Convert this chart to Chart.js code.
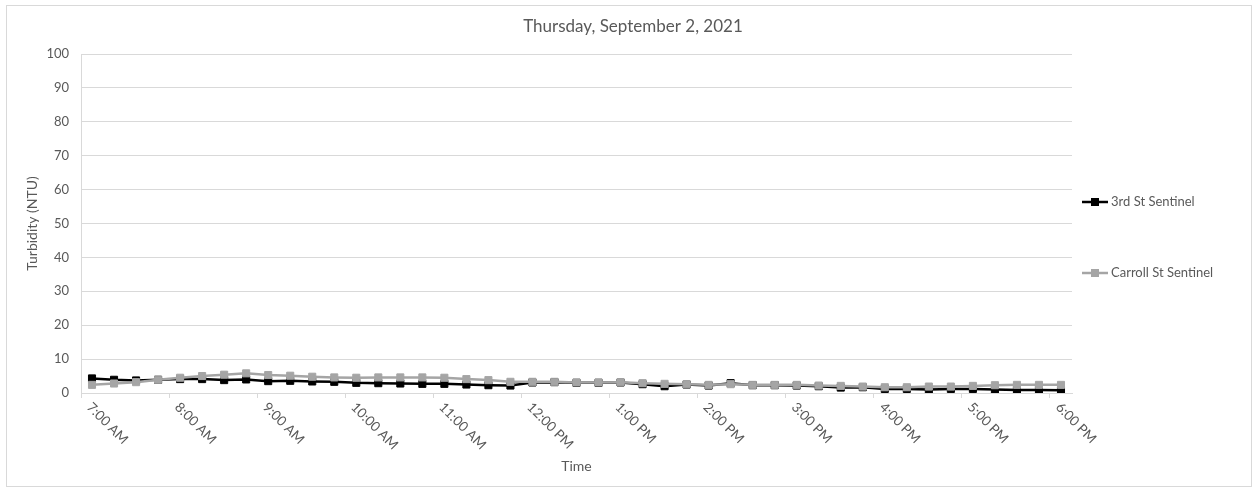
<!DOCTYPE html>
<html>
<head>
<meta charset="utf-8">
<script src="https://cdn.jsdelivr.net/npm/chart.js@4.4.1/dist/chart.umd.min.js"></script>
<style>
  html, body { margin: 0; padding: 0; background: #ffffff; }
  #wrap { position: relative; width: 1257px; height: 491px; }
</style>
</head>
<body>
<div id="wrap"><canvas id="c" width="1257" height="491"></canvas></div>
<script>
const chartTitle = "Thursday, September 2, 2021";
const xTitle = "Time";
const yTitle = "Turbidity (NTU)";

const categories = [
  "7:00 AM","7:15 AM","7:30 AM","7:45 AM",
  "8:00 AM","8:15 AM","8:30 AM","8:45 AM",
  "9:00 AM","9:15 AM","9:30 AM","9:45 AM",
  "10:00 AM","10:15 AM","10:30 AM","10:45 AM",
  "11:00 AM","11:15 AM","11:30 AM","11:45 AM",
  "12:00 PM","12:15 PM","12:30 PM","12:45 PM",
  "1:00 PM","1:15 PM","1:30 PM","1:45 PM",
  "2:00 PM","2:15 PM","2:30 PM","2:45 PM",
  "3:00 PM","3:15 PM","3:30 PM","3:45 PM",
  "4:00 PM","4:15 PM","4:30 PM","4:45 PM",
  "5:00 PM","5:15 PM","5:30 PM","5:45 PM",
  "6:00 PM"
];

const tickLabels = ["7:00 AM","8:00 AM","9:00 AM","10:00 AM","11:00 AM","12:00 PM",
  "1:00 PM","2:00 PM","3:00 PM","4:00 PM","5:00 PM","6:00 PM"];

const yTicks = [0,10,20,30,40,50,60,70,80,90,100];

const thirdStName = "3rd St Sentinel";
const thirdSt = [
  4.3,3.9,3.7,3.9, 4.1,4.1,3.8,4.0, 3.5,3.6,3.4,3.3,
  3.0,2.9,2.8,2.7, 2.7,2.5,2.3,2.2, 3.1,3.2,3.0,3.0,
  3.1,2.6,2.0,2.5, 2.2,2.9,2.3,2.3, 2.2,2.0,1.6,1.7,
  1.2,1.2,1.0,1.2, 1.2,1.0,0.9,0.9, 0.8
];

const carrollStName = "Carroll St Sentinel";
const carrollSt = [
  2.4,2.8,3.2,3.9, 4.5,5.0,5.4,5.8, 5.3,5.1,4.8,4.6,
  4.5,4.6,4.6,4.6, 4.5,4.1,3.8,3.3, 3.3,3.3,3.1,3.1,
  3.2,2.9,2.7,2.6, 2.4,2.6,2.4,2.4, 2.4,2.2,2.1,1.9,
  1.7,1.7,1.9,1.9, 2.1,2.3,2.4,2.4, 2.4
];

const FONT = "Lato, 'Liberation Sans', sans-serif";
const TEXT = "#595959";
const GRID = "#d9d9d9";

const customPlugin = {
  id: 'custom',
  beforeDraw(chart) {
    const ctx = chart.ctx;
    ctx.save();
    ctx.fillStyle = '#ffffff';
    ctx.fillRect(0, 0, chart.width, chart.height);
    ctx.strokeStyle = GRID;
    ctx.lineWidth = 1;
    ctx.strokeRect(6.5, 5.5, 1245, 481);
    ctx.restore();
  },
  afterDraw(chart) {
    const ctx = chart.ctx;
    const xs = chart.scales.x;
    ctx.save();
    // chart title, centred over the whole chart box
    ctx.font = "17px " + FONT;
    ctx.fillStyle = TEXT;
    ctx.textAlign = 'center';
    ctx.textBaseline = 'middle';
    ctx.fillText(chartTitle, 633, 27);
    // rotated x tick labels
    ctx.font = "13.5px " + FONT;
    ctx.textAlign = 'left';
    ctx.textBaseline = 'middle';
    categories.forEach((c, i) => {
      if (tickLabels.indexOf(c) === -1) return;
      const px = xs.getPixelForValue(i);
      ctx.save();
      ctx.translate(px - 3, xs.top + 12);
      ctx.rotate(Math.PI / 4);
      ctx.fillText(c, 0, 0);
      ctx.restore();
    });
    // legend
    const legendX = chart.chartArea.right + 10;
    const legendYs = [202, 273];
    chart.data.datasets.forEach((ds, i) => {
      const y = legendYs[i];
      ctx.strokeStyle = ds.borderColor;
      ctx.lineWidth = 2.5;
      ctx.beginPath();
      ctx.moveTo(legendX, y);
      ctx.lineTo(legendX + 26, y);
      ctx.stroke();
      ctx.fillStyle = ds.borderColor;
      ctx.fillRect(legendX + 13 - 4, y - 4, 8, 8);
      ctx.fillStyle = TEXT;
      ctx.font = "13px " + FONT;
      ctx.textAlign = 'left';
      ctx.textBaseline = 'middle';
      ctx.fillText(ds.label, legendX + 29, y);
    });
    ctx.restore();
  }
};

new Chart(document.getElementById('c'), {
  type: 'line',
  data: {
    labels: categories,
    datasets: [
      {
        label: thirdStName,
        data: thirdSt,
        borderColor: '#000000',
        backgroundColor: '#000000',
        borderWidth: 2.5,
        pointStyle: 'rect',
        pointRadius: 5,
        pointBorderWidth: 1,
        pointBackgroundColor: '#000000',
        pointBorderColor: '#000000',
        tension: 0,
        order: 1
      },
      {
        label: carrollStName,
        data: carrollSt,
        borderColor: '#a5a5a5',
        backgroundColor: '#a5a5a5',
        borderWidth: 2.5,
        pointStyle: 'rect',
        pointRadius: 5,
        pointBorderWidth: 1,
        pointBackgroundColor: '#a5a5a5',
        pointBorderColor: '#a5a5a5',
        tension: 0,
        order: 0
      }
    ]
  },
  options: {
    responsive: false,
    animation: false,
    devicePixelRatio: 1,
    layout: { padding: { left: 0, right: 185, top: 54, bottom: 0 } },
    plugins: {
      legend: { display: false },
      tooltip: { enabled: false },
      title: { display: false }
    },
    scales: {
      x: {
        type: 'category',
        offset: true,
        afterFit(scale) { scale.height = 98; },
        border: { display: true, color: GRID, width: 1 },
        grid: {
          offset: true,
          drawOnChartArea: false,
          drawTicks: true,
          tickLength: 5,
          color: (ctx) => (ctx.index % 4 === 0 ? GRID : 'rgba(0,0,0,0)')
        },
        ticks: { display: false, autoSkip: false, maxRotation: 0, minRotation: 0 },
        title: {
          display: true,
          text: xTitle,
          color: TEXT,
          font: { family: FONT, size: 14, weight: 'normal', lineHeight: 1.2 },
          padding: { top: 16, bottom: 16 }
        }
      },
      y: {
        min: 0,
        max: 100,
        afterFit(scale) { scale.width = 81; },
        afterBuildTicks(scale) { scale.ticks = yTicks.map(v => ({ value: v })); },
        border: { display: true, color: GRID, width: 1 },
        grid: { color: GRID, drawTicks: false, lineWidth: 1 },
        ticks: {
          color: TEXT,
          padding: 12,
          font: { family: FONT, size: 13 }
        },
        title: {
          display: true,
          text: yTitle,
          color: TEXT,
          font: { family: FONT, size: 14, weight: 'normal', lineHeight: 1.2 },
          padding: { top: 24, bottom: 24 }
        }
      }
    }
  },
  plugins: [customPlugin]
});
</script>
</body>
</html>
